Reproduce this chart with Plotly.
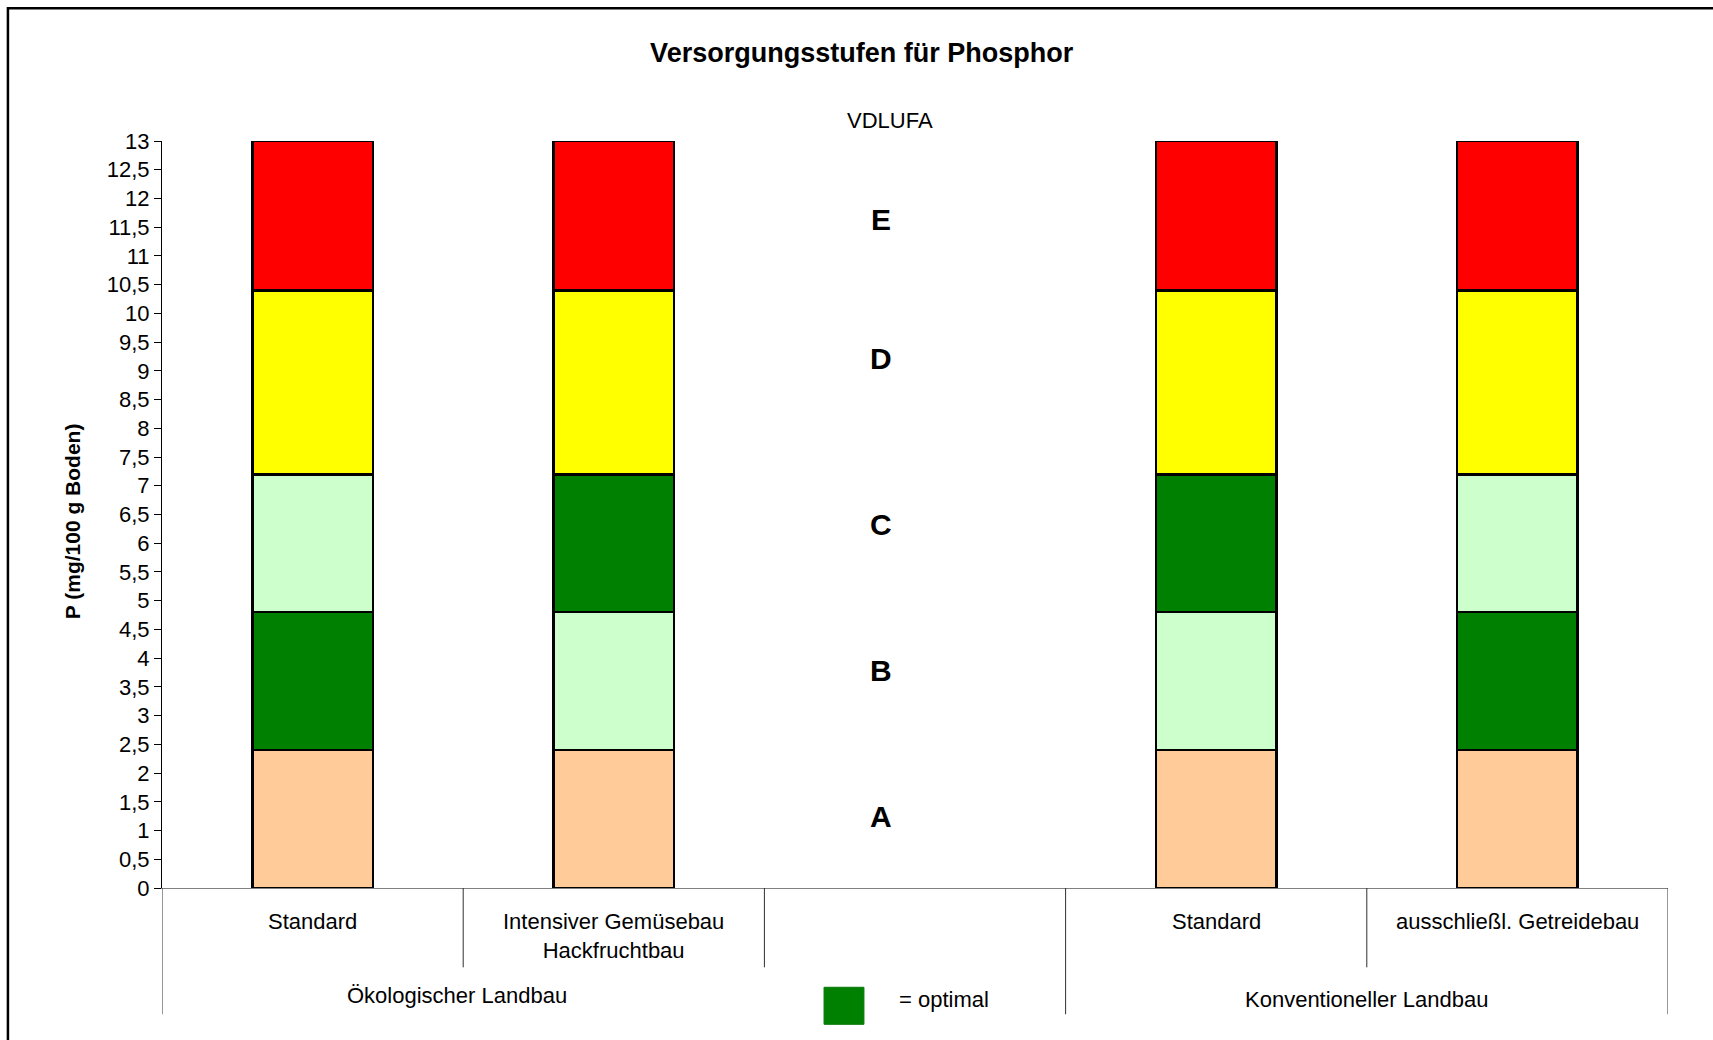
import plotly.graph_objects as go

# ---------------- data ----------------
groups = ["Ökologischer Landbau", "Konventioneller Landbau"]
categories = ["Standard", "Intensiver Gemüsebau<br>Hackfruchtbau", "", "Standard", "ausschließl. Getreidebau"]
category_keys = ["Öko – Standard", "Öko – Intensiver Gemüsebau", "leer", "Konv – Standard", "Konv – ausschließl. Getreidebau"]

stufen = ["A", "B", "C", "D", "E"]
hoehe_A = [2.4, 2.4, None, 2.4, 2.4]
hoehe_B = [2.4, 2.4, None, 2.4, 2.4]
hoehe_C = [2.4, 2.4, None, 2.4, 2.4]
hoehe_D = [3.2, 3.2, None, 3.2, 3.2]
hoehe_E = [2.6, 2.6, None, 2.6, 2.6]
optimal_B = [True, False, False, False, True]
optimal_C = [False, True, False, True, False]
stufen_label_y = [1.25, 3.78, 6.32, 9.22, 11.63]

y_ticks = [0, 0.5, 1, 1.5, 2, 2.5, 3, 3.5, 4, 4.5, 5, 5.5, 6, 6.5, 7, 7.5, 8, 8.5, 9, 9.5,
           10, 10.5, 11, 11.5, 12, 12.5, 13]
y_ticklabels = ["0", "0,5", "1", "1,5", "2", "2,5", "3", "3,5", "4", "4,5", "5", "5,5", "6", "6,5",
                "7", "7,5", "8", "8,5", "9", "9,5", "10", "10,5", "11", "11,5", "12", "12,5", "13"]

# ---------------- styles ----------------
FONT = "Liberation Sans, Arial, sans-serif"
C_A = "#FFCC99"
C_OPT = "#008000"
C_LIGHT = "#CCFFCC"
C_D = "#FFFF00"
C_E = "#FF0000"

fig = go.Figure()

def add_bar(name, vals, colors):
    fig.add_trace(go.Bar(
        x=category_keys, y=vals, name=name, width=0.4,
        marker=dict(color=colors, line=dict(color="black", width=2.5)),
        showlegend=False, hoverinfo="skip",
    ))

add_bar("A", hoehe_A, [C_A] * 5)
add_bar("B", hoehe_B, [C_OPT if o else C_LIGHT for o in optimal_B])
add_bar("C", hoehe_C, [C_OPT if o else C_LIGHT for o in optimal_C])
add_bar("D", hoehe_D, [C_D] * 5)
add_bar("E", hoehe_E, [C_E] * 5)

annotations = []
# stage letters
for s, yv in zip(stufen, stufen_label_y):
    annotations.append(dict(x=1.886, y=yv, xref="x", yref="y", text="<b>%s</b>" % s,
                            showarrow=False, font=dict(family=FONT, size=30, color="black"),
                            xanchor="center", yanchor="middle"))
# category labels
for i, c in enumerate(categories):
    if not c:
        continue
    ypos = -0.0636 if "<br>" in c else -0.0446
    annotations.append(dict(x=i, y=ypos, xref="x", yref="paper", text=c, showarrow=False,
                            font=dict(family=FONT, size=22, color="black"),
                            xanchor="center", yanchor="middle"))
# group labels
annotations.append(dict(x=0.48, y=-0.1440, xref="x", yref="paper", text=groups[0], showarrow=False,
                        font=dict(family=FONT, size=22, color="black"), xanchor="center", yanchor="middle"))
annotations.append(dict(x=3.5, y=-0.1490, xref="x", yref="paper", text=groups[1], showarrow=False,
                        font=dict(family=FONT, size=22, color="black"), xanchor="center", yanchor="middle"))
# legend text
annotations.append(dict(x=0.4883, y=-0.1495, xref="paper", yref="paper", text="= optimal", showarrow=False,
                        font=dict(family=FONT, size=22, color="black"), xanchor="left", yanchor="middle"))
# subtitle
annotations.append(dict(x=0.4834, y=1.0277, xref="paper", yref="paper", text="VDLUFA", showarrow=False,
                        font=dict(family=FONT, size=22, color="black"), xanchor="center", yanchor="middle"))
# y-axis title
annotations.append(dict(x=-0.0598, y=0.4909, xref="paper", yref="paper", text="<b>P (mg/100 g Boden)</b>",
                        showarrow=False, textangle=-90,
                        font=dict(family=FONT, size=21, color="black"), xanchor="center", yanchor="middle"))

shapes = []
# short dividers between categories
for xb in [0.5, 1.5, 3.5]:
    shapes.append(dict(type="line", xref="x", yref="paper", x0=xb, x1=xb, y0=0, y1=-0.1062,
                       line=dict(color="#303030", width=1)))
# long dividers between groups
for xb in [-0.5, 2.5, 4.5]:
    shapes.append(dict(type="line", xref="x", yref="paper", x0=xb, x1=xb, y0=0, y1=-0.169,
                       line=dict(color="#303030", width=1)))
# legend square
shapes.append(dict(type="rect", xref="paper", yref="paper", x0=0.4396, x1=0.4661, y0=-0.1329, y1=-0.1825,
                   fillcolor=C_OPT, line=dict(color="#0a7a0a", width=1)))
# outer chart frame
shapes.append(dict(type="rect", xref="paper", yref="paper", x0=-0.1023, x1=1.2, y0=-0.3, y1=1.1777,
                   fillcolor="rgba(0,0,0,0)", line=dict(color="black", width=2.5), layer="above"))

fig.update_layout(
    width=1713, height=1040, autosize=False,
    margin=dict(l=162, r=45, t=141, b=152, pad=0),
    paper_bgcolor="white", plot_bgcolor="white",
    barmode="stack", bargap=0.6,
    separators=",.",
    font=dict(family=FONT, size=22, color="black"),
    title=dict(text="<b>Versorgungsstufen für Phosphor</b>", x=0.503, y=0.949, xref="container",
               yref="container", xanchor="center", yanchor="middle",
               font=dict(family=FONT, size=27, color="black")),
    xaxis=dict(type="category", categoryorder="array", categoryarray=category_keys,
               range=[-0.5, 4.5], showticklabels=False, ticks="", showgrid=False, zeroline=False,
               showline=True, linecolor="#808080", linewidth=1, layer="below traces", fixedrange=True),
    yaxis=dict(range=[0, 13], tickmode="array", tickvals=y_ticks, ticktext=y_ticklabels,
               ticks="outside", ticklen=7, tickcolor="black", tickwidth=1,
               showline=True, linecolor="black", linewidth=1, showgrid=False, zeroline=False,
               tickfont=dict(family=FONT, size=22, color="black"), fixedrange=True),
    yaxis2=dict(range=[0, 13], overlaying="y", side="left", tickmode="array", tickvals=y_ticks[1:-1],
                showticklabels=False, ticks="", showline=False, zeroline=False,
                showgrid=True, gridcolor="black", gridwidth=1, fixedrange=True),
    annotations=annotations, shapes=shapes,
)

fig.write_html("out.html", config={"displayModeBar": False},
               post_script="document.body.style.margin='0';document.body.style.overflow='hidden';")
